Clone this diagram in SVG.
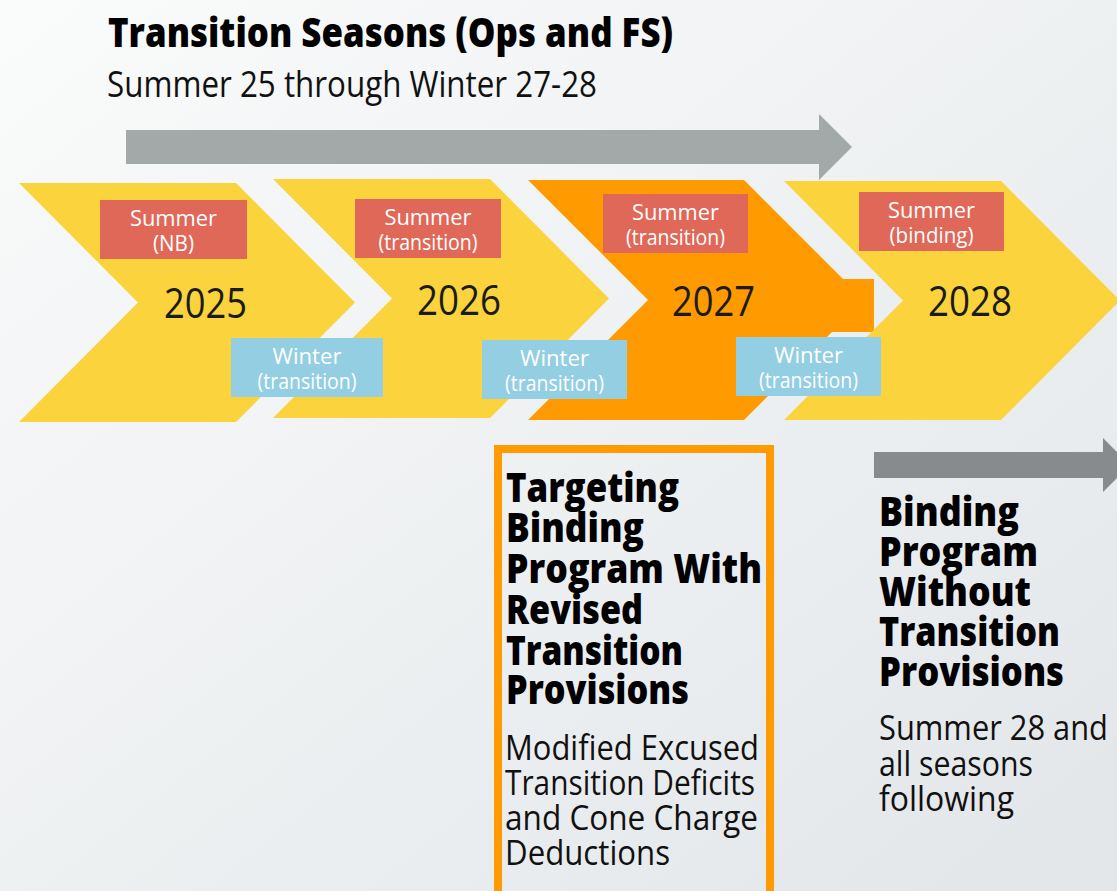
<svg xmlns="http://www.w3.org/2000/svg" width="1117" height="891" viewBox="0 0 1117 891">
<defs>
<linearGradient id="bg" x1="0" y1="0" x2="1" y2="1">
<stop offset="0" stop-color="#FAFBFB"/>
<stop offset="1" stop-color="#E2E6E9"/>
</linearGradient>
<style>
text{font-family:"Open Sans","Noto Sans","Liberation Sans",sans-serif;}
.chev{fill:#FAD33D;}
.chevo{fill:#FF9A00;}
.sum{fill:#DF6858;}
.win{fill:#93CEE3;}
.lbl{fill:#FFFFFF;font-size:21px;text-anchor:middle;}
.yr{fill:#1B1B1B;font-size:42px;}
.hb{fill:#000;font-size:40px;font-weight:800;}
.hr{fill:#111;font-size:35px;}
</style>
</defs>
<rect width="1117" height="891" fill="url(#bg)"/>

<g id="title">
<text class="hb" x="108" y="47" textLength="565" lengthAdjust="spacingAndGlyphs" style="font-size:41px">Transition Seasons (Ops and FS)</text>
<text class="hr" x="107" y="97" textLength="490" lengthAdjust="spacingAndGlyphs" style="font-size:37px">Summer 25 through Winter 27-28</text>
</g>

<g id="connectors">
<polygon points="126,130 819,130 819,114 852,147 819,180 819,164 126,164" fill="#A3A8A8"/>
<polygon points="874,452 1103,452 1103,438 1130,465 1103,492 1103,478 874,478" fill="#878B8E"/>
</g>

<g id="y2025">
<polygon class="chev" points="19,183 236,183 355,302.5 236,422 19,422 138,302.5"/>
<text class="yr" x="164" y="318" textLength="83" lengthAdjust="spacingAndGlyphs">2025</text>
</g>
<g id="y2026">
<polygon class="chev" points="273,179 490,179 609,298.5 490,418 273,418 392,298.5"/>
<text class="yr" x="417" y="315" textLength="84" lengthAdjust="spacingAndGlyphs">2026</text>
</g>
<g id="y2027">
<polygon class="chevo" points="528,180 744,180 843,279 874,279 874,332 832,332 744,420 528,420 648,300"/>
<text class="yr" x="672" y="316" textLength="83" lengthAdjust="spacingAndGlyphs">2027</text>
</g>
<g id="y2028">
<polygon class="chev" points="784,181 1001,181 1120,300.5 1001,420 784,420 903,300.5"/>
<text class="yr" x="928" y="316" textLength="84" lengthAdjust="spacingAndGlyphs">2028</text>
</g>

<g id="s2025">
<rect class="sum" x="100" y="200" width="147" height="59"/>
<text class="lbl" x="173.5" y="226" textLength="87" lengthAdjust="spacingAndGlyphs">Summer</text>
<text class="lbl" x="173.5" y="251" textLength="41" lengthAdjust="spacingAndGlyphs">(NB)</text>
</g>
<g id="s2026">
<rect class="sum" x="355" y="199" width="146" height="59"/>
<text class="lbl" x="428" y="225" textLength="87" lengthAdjust="spacingAndGlyphs">Summer</text>
<text class="lbl" x="428" y="250" textLength="99" lengthAdjust="spacingAndGlyphs">(transition)</text>
</g>
<g id="s2027">
<rect class="sum" x="603" y="194" width="145" height="59"/>
<text class="lbl" x="675.5" y="220" textLength="87" lengthAdjust="spacingAndGlyphs">Summer</text>
<text class="lbl" x="675.5" y="245" textLength="99" lengthAdjust="spacingAndGlyphs">(transition)</text>
</g>
<g id="s2028">
<rect class="sum" x="859" y="192" width="145" height="59"/>
<text class="lbl" x="931.5" y="218" textLength="87" lengthAdjust="spacingAndGlyphs">Summer</text>
<text class="lbl" x="931.5" y="243" textLength="84" lengthAdjust="spacingAndGlyphs">(binding)</text>
</g>
<g id="w2025">
<rect class="win" x="231" y="338" width="152" height="59"/>
<text class="lbl" x="307" y="364" textLength="69" lengthAdjust="spacingAndGlyphs">Winter</text>
<text class="lbl" x="307" y="389" textLength="99" lengthAdjust="spacingAndGlyphs">(transition)</text>
</g>
<g id="w2026">
<rect class="win" x="482" y="340" width="145" height="59"/>
<text class="lbl" x="554.5" y="366" textLength="69" lengthAdjust="spacingAndGlyphs">Winter</text>
<text class="lbl" x="554.5" y="391" textLength="99" lengthAdjust="spacingAndGlyphs">(transition)</text>
</g>
<g id="w2027">
<rect class="win" x="736" y="337" width="145" height="59"/>
<text class="lbl" x="808.5" y="363" textLength="69" lengthAdjust="spacingAndGlyphs">Winter</text>
<text class="lbl" x="808.5" y="388" textLength="99" lengthAdjust="spacingAndGlyphs">(transition)</text>
</g>

<g id="targeting">
<rect x="498" y="449" width="272" height="470" fill="none" stroke="#FF9A00" stroke-width="8"/>
<text class="hb" x="506" y="502" textLength="173" lengthAdjust="spacingAndGlyphs">Targeting</text>
<text class="hb" x="506" y="542" textLength="138" lengthAdjust="spacingAndGlyphs">Binding</text>
<text class="hb" x="506" y="583" textLength="256" lengthAdjust="spacingAndGlyphs">Program With</text>
<text class="hb" x="506" y="624" textLength="137" lengthAdjust="spacingAndGlyphs">Revised</text>
<text class="hb" x="506" y="665" textLength="177" lengthAdjust="spacingAndGlyphs">Transition</text>
<text class="hb" x="506" y="704" textLength="183" lengthAdjust="spacingAndGlyphs">Provisions</text>
<text class="hr" x="505" y="760" textLength="254" lengthAdjust="spacingAndGlyphs">Modified Excused</text>
<text class="hr" x="505" y="795" textLength="250" lengthAdjust="spacingAndGlyphs">Transition Deficits</text>
<text class="hr" x="505" y="830" textLength="253" lengthAdjust="spacingAndGlyphs">and Cone Charge</text>
<text class="hr" x="505" y="865" textLength="165" lengthAdjust="spacingAndGlyphs">Deductions</text>
</g>

<g id="binding">
<text class="hb" x="879" y="526" textLength="140" lengthAdjust="spacingAndGlyphs">Binding</text>
<text class="hb" x="879" y="566" textLength="159" lengthAdjust="spacingAndGlyphs">Program</text>
<text class="hb" x="879" y="606" textLength="152" lengthAdjust="spacingAndGlyphs">Without</text>
<text class="hb" x="879" y="646" textLength="181" lengthAdjust="spacingAndGlyphs">Transition</text>
<text class="hb" x="879" y="686" textLength="185" lengthAdjust="spacingAndGlyphs">Provisions</text>
<text class="hr" x="879" y="740" textLength="229" lengthAdjust="spacingAndGlyphs">Summer 28 and</text>
<text class="hr" x="879" y="776" textLength="154" lengthAdjust="spacingAndGlyphs">all seasons</text>
<text class="hr" x="879" y="811" textLength="135" lengthAdjust="spacingAndGlyphs">following</text>
</g>
</svg>
